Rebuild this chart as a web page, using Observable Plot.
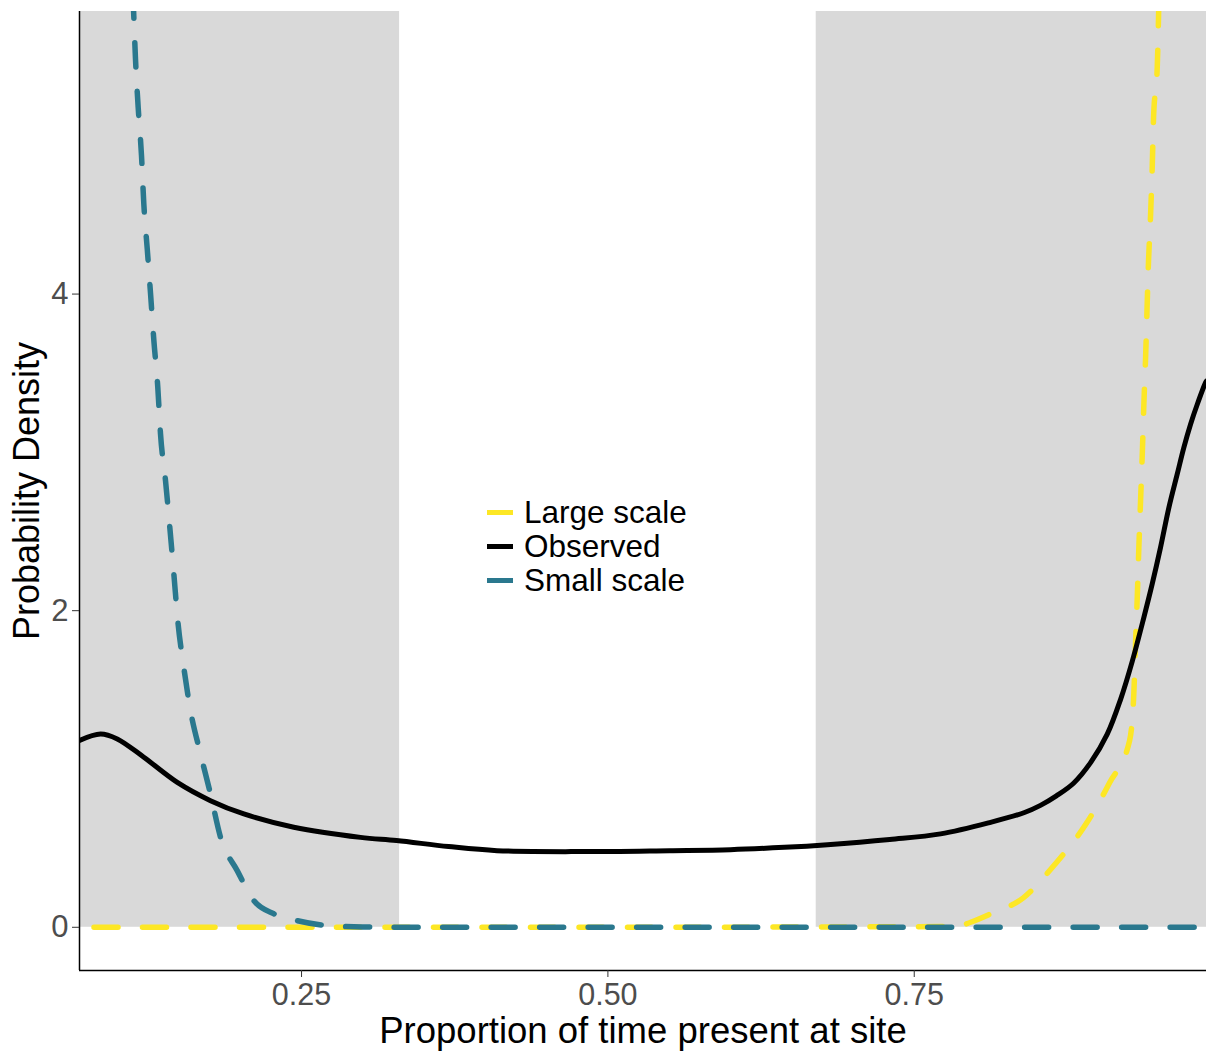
<!DOCTYPE html>
<html><head><meta charset="utf-8">
<script src="https://cdn.jsdelivr.net/npm/d3@7"></script>
<script src="https://cdn.jsdelivr.net/npm/@observablehq/plot@0.6"></script>
<style>
body{margin:0;background:#fff;}
#wrap{position:relative;width:1206px;height:1053px;font-family:"Liberation Sans",Arial,sans-serif;overflow:hidden;}
#legend{position:absolute;left:487px;top:495px;}
.row{display:flex;align-items:center;height:34px;font-size:31.5px;color:#000;white-space:nowrap;}
.key{width:26px;height:5px;margin-right:11px;}
</style></head><body><div id="wrap"></div>
<script>
// ---- data ----
const xDomain = [0.0688, 0.9885];
const yDomain = [-0.273, 5.785];
const xTicks = [0.25, 0.50, 0.75];
const yTicks = [0, 2, 4];
const xTitle = "Proportion of time present at site";
const yTitle = "Probability Density";

const shadeStarts = [xDomain[0], 0.67];
const shadeEnds = [0.33, xDomain[1]];

const seriesNames = ["Large scale", "Observed", "Small scale"];
const seriesColors = ["#FDE725", "#000000", "#2A788E"];

const observedX = [0.0688, 0.086, 0.0996, 0.1213, 0.1486, 0.1757, 0.2029, 0.2437, 0.2981, 0.3275, 0.37, 0.4095, 0.48, 0.5503, 0.60, 0.644, 0.6792, 0.73, 0.7715, 0.8123, 0.84, 0.853, 0.866, 0.880, 0.8939, 0.9075, 0.9184, 0.9279, 0.9374, 0.9442, 0.951, 0.9578, 0.9646, 0.970, 0.9755, 0.981, 0.9877, 0.9885];
const observedY = [1.18, 1.221, 1.19, 1.074, 0.915, 0.80, 0.716, 0.632, 0.568, 0.548, 0.51, 0.484, 0.478, 0.484, 0.49, 0.505, 0.522, 0.555, 0.59, 0.663, 0.725, 0.77, 0.83, 0.91, 1.04, 1.22, 1.44, 1.68, 1.958, 2.169, 2.40, 2.651, 2.862, 3.03, 3.178, 3.304, 3.44, 3.45];

const smallX = [0.1110, 0.1131, 0.1145, 0.1167, 0.1194, 0.1213, 0.1241, 0.1268, 0.1295, 0.1327, 0.1349, 0.139, 0.1425, 0.1458, 0.149, 0.1539, 0.1594, 0.1676, 0.1757, 0.1839, 0.1975, 0.2111, 0.2274, 0.2437, 0.271, 0.30, 0.35, 0.5, 0.75, 0.9885];
const smallY = [6.2, 5.758, 5.484, 5.178, 4.875, 4.568, 4.284, 4.0, 3.705, 3.41, 3.118, 2.821, 2.526, 2.232, 1.937, 1.642, 1.368, 1.094, 0.842, 0.568, 0.358, 0.168, 0.085, 0.047, 0.011, 0.002, 0, 0, 0, 0];

const largeX = [0.0688, 0.5, 0.785, 0.796, 0.8123, 0.839, 0.8645, 0.8904, 0.9094, 0.9257, 0.9292, 0.9306, 0.932, 0.9333, 0.9347, 0.9361, 0.9374, 0.9388, 0.9412, 0.9429, 0.9442, 0.9453, 0.9483, 0.9494, 0.9505];
const largeY = [0, 0, 0.005, 0.032, 0.085, 0.186, 0.395, 0.655, 0.913, 1.178, 1.478, 1.794, 2.084, 2.4, 2.695, 2.991, 3.307, 3.6, 4.21, 4.507, 4.799, 5.115, 5.431, 5.763, 6.2];

// ---- tables ----
const shading = shadeStarts.map((s, i) => ({x1: s, x2: shadeEnds[i], y1: 0, y2: yDomain[1]}));
const toRows = (xs, ys) => xs.map((x, i) => ({x, y: ys[i]}));
const large = toRows(largeX, largeY);
const observed = toRows(observedX, observedY);
const small = toRows(smallX, smallY);

const font = "Liberation Sans, Arial, sans-serif";

const chart = Plot.plot({
  width: 1206, height: 1053,
  marginLeft: 79, marginRight: 0, marginTop: 11, marginBottom: 83,
  style: {fontFamily: font, background: "#fff", overflow: "visible"},
  x: {domain: xDomain},
  y: {domain: yDomain},
  marks: [
    Plot.rect(shading, {x1: "x1", x2: "x2", y1: "y1", y2: "y2", fill: "#d9d9d9"}),
    Plot.line(large, {x: "x", y: "y", stroke: seriesColors[0], strokeWidth: 5.5, strokeDasharray: "24,24.5", strokeDashoffset: 34, curve: "monotone-x", clip: true}),
    Plot.line(observed, {x: "x", y: "y", stroke: seriesColors[1], strokeWidth: 5, curve: "catmull-rom", clip: true}),
    Plot.line(small, {x: "x", y: "y", stroke: seriesColors[2], strokeWidth: 5.5, strokeDasharray: "24,24.5", curve: "monotone-x", clip: true}),
    Plot.ruleX([xDomain[0]], {stroke: "#000", strokeWidth: 1.5}),
    Plot.ruleY([yDomain[0]], {stroke: "#000", strokeWidth: 1.5}),
    Plot.axisX({ticks: xTicks, tickFormat: d3.format(".2f"), tickSize: 7, tickPadding: 6, fontSize: 30.5, stroke: "#333", fill: "#4d4d4d", label: null}),
    Plot.axisY({ticks: yTicks, tickFormat: d3.format("d"), tickSize: 7, tickPadding: 4, fontSize: 31, stroke: "#333", fill: "#4d4d4d", label: null}),
    Plot.text([xTitle], {frameAnchor: "bottom", textAnchor: "middle", dy: 72, fontSize: 36.5, fill: "#000"}),
    Plot.text([yTitle], {frameAnchor: "left", textAnchor: "middle", dx: -52, rotate: -90, fontSize: 36, fill: "#000"})
  ]
});

const wrap = document.getElementById("wrap");
wrap.appendChild(chart);

const legend = document.createElement("div");
legend.id = "legend";
seriesNames.forEach((name, i) => {
  const row = document.createElement("div");
  row.className = "row";
  const key = document.createElement("span");
  key.className = "key";
  key.style.background = seriesColors[i];
  const label = document.createElement("span");
  label.textContent = name;
  row.appendChild(key);
  row.appendChild(label);
  legend.appendChild(row);
});
wrap.appendChild(legend);
</script></body></html>
